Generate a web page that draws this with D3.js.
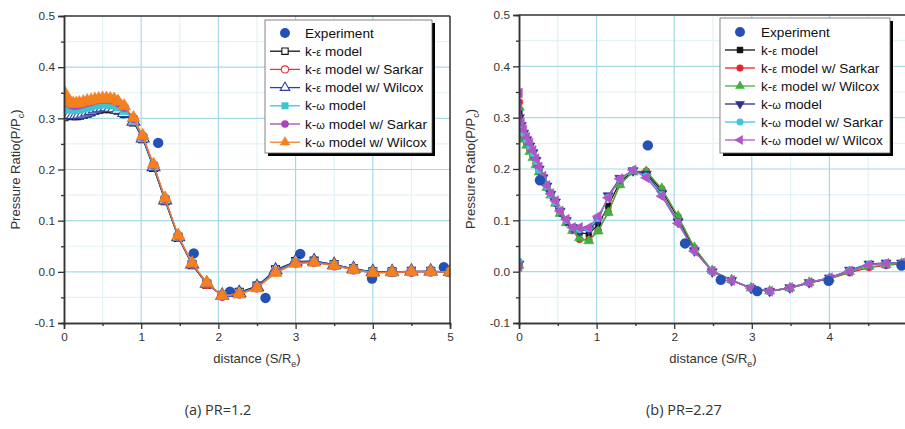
<!DOCTYPE html>
<html><head><meta charset="utf-8">
<script src="https://cdn.jsdelivr.net/npm/d3@7"></script>
<style>body{margin:0;background:#fff}svg{display:block}</style>
</head><body><svg id="c" width="905" height="429"></svg>
<script>
// ---------- DATA ----------
const xTicks = [0, 1, 2, 3, 4, 5];
const xTickLabels = ["0", "1", "2", "3", "4", "5"];
const yTicks = [-0.1, 0.0, 0.1, 0.2, 0.3, 0.4, 0.5];
const yTickLabels = ["-0.1", "0.0", "0.1", "0.2", "0.3", "0.4", "0.5"];
const xMinor = [0.5, 1.5, 2.5, 3.5, 4.5];
const yMinor = [-0.05, 0.05, 0.15, 0.25, 0.35, 0.45];

const seriesNames = ["k-ε model", "k-ε model w/ Sarkar", "k-ε model w/ Wilcox", "k-ω model", "k-ω model w/ Sarkar", "k-ω model w/ Wilcox"];
const captionA = "(a) PR=1.2";
const captionB = "(b) PR=2.27";

// Panel (a) PR=1.2
const expAx = [0.77, 1.22, 1.68, 2.15, 2.61, 3.06, 3.99, 4.92];
const expAy = [0.31, 0.252, 0.036, -0.039, -0.051, 0.035, -0.013, 0.009];
const xA = [0, 0.04, 0.08, 0.12, 0.16, 0.2, 0.25, 0.3, 0.35, 0.4, 0.45, 0.5, 0.55, 0.6, 0.65, 0.7, 0.78, 0.9, 1.02, 1.16, 1.31, 1.48, 1.66, 1.85, 2.05, 2.27, 2.5, 2.74, 3.0, 3.24, 3.5, 3.75, 4.0, 4.25, 4.5, 4.75, 5.0];
const a_kE       = [0.303,0.308,0.306,0.305,0.305,0.306,0.308,0.31,0.313,0.316,0.318,0.319,0.32,0.319,0.318,0.316,0.31,0.293,0.26,0.204,0.139,0.067,0.014,-0.024,-0.046,-0.04,-0.028,0.004,0.02,0.021,0.014,0.006,0.0,0.0,0.001,0.001,0.0];
const a_kE_Sark  = [0.315,0.312,0.31,0.309,0.309,0.31,0.312,0.314,0.316,0.319,0.321,0.322,0.323,0.322,0.321,0.318,0.312,0.295,0.262,0.206,0.141,0.068,0.015,-0.024,-0.047,-0.042,-0.03,0.002,0.019,0.02,0.013,0.005,-0.001,0.0,0.0,0.001,0.0];
const a_kE_Wilc  = [0.31,0.31,0.308,0.307,0.307,0.308,0.31,0.312,0.315,0.318,0.32,0.321,0.322,0.321,0.32,0.317,0.311,0.294,0.261,0.205,0.14,0.068,0.015,-0.023,-0.046,-0.041,-0.029,0.003,0.02,0.021,0.014,0.006,0.0,0.0,0.001,0.001,0.0];
const a_kW       = [0.325,0.32,0.318,0.317,0.317,0.318,0.32,0.322,0.324,0.326,0.327,0.328,0.328,0.327,0.326,0.322,0.315,0.297,0.263,0.207,0.142,0.069,0.016,-0.022,-0.046,-0.042,-0.03,0.001,0.018,0.019,0.013,0.005,-0.001,-0.001,0.0,0.0,0.0];
const a_kW_Sark  = [0.345,0.333,0.328,0.326,0.326,0.327,0.329,0.331,0.333,0.335,0.337,0.338,0.338,0.337,0.336,0.331,0.322,0.3,0.265,0.209,0.143,0.07,0.016,-0.022,-0.047,-0.043,-0.031,0.0,0.017,0.019,0.012,0.004,-0.002,-0.001,0.0,0.0,0.0];
const a_kW_Wilc  = [0.352,0.338,0.332,0.329,0.329,0.33,0.332,0.334,0.335,0.337,0.338,0.339,0.339,0.338,0.337,0.333,0.324,0.301,0.266,0.21,0.144,0.071,0.017,-0.021,-0.047,-0.044,-0.032,-0.002,0.016,0.018,0.012,0.004,-0.002,-0.001,0.0,0.0,0.0];

// Panel (b) PR=2.27
const expBx = [0.27, 1.66, 2.14, 2.6, 3.07, 3.99, 4.93];
const expBy = [0.178, 0.246, 0.055, -0.016, -0.038, -0.018, 0.012];
const xB = [0, 0.005, 0.03, 0.06, 0.1, 0.14, 0.18, 0.22, 0.26, 0.31, 0.36, 0.41, 0.47, 0.53, 0.61, 0.69, 0.78, 0.9, 1.02, 1.15, 1.3, 1.47, 1.64, 1.84, 2.05, 2.26, 2.49, 2.74, 2.99, 3.23, 3.49, 3.74, 4.0, 4.26, 4.51, 4.73, 4.93];
const b_kE       = [0.012,0.31,0.275,0.262,0.25,0.238,0.225,0.21,0.196,0.18,0.165,0.15,0.134,0.115,0.098,0.085,0.076,0.073,0.092,0.128,0.175,0.196,0.193,0.158,0.104,0.044,0.0,-0.017,-0.032,-0.038,-0.032,-0.022,-0.013,0.002,0.014,0.016,0.017];
const b_kE_Sark  = [0.012,0.33,0.28,0.265,0.252,0.24,0.227,0.212,0.197,0.181,0.166,0.15,0.134,0.114,0.096,0.08,0.063,0.062,0.08,0.116,0.17,0.195,0.196,0.161,0.107,0.046,0.001,-0.017,-0.032,-0.039,-0.032,-0.022,-0.014,-0.002,0.008,0.012,0.015];
const b_kE_Wilc  = [0.012,0.32,0.27,0.258,0.246,0.234,0.222,0.208,0.194,0.179,0.164,0.149,0.133,0.113,0.095,0.08,0.066,0.06,0.079,0.115,0.169,0.194,0.195,0.162,0.108,0.047,0.002,-0.016,-0.032,-0.038,-0.032,-0.021,-0.013,0.0,0.01,0.013,0.016];
const b_kW       = [0.015,0.3,0.285,0.27,0.257,0.245,0.232,0.217,0.2,0.183,0.167,0.151,0.136,0.118,0.1,0.086,0.08,0.082,0.1,0.148,0.182,0.197,0.19,0.152,0.097,0.041,0.0,-0.017,-0.032,-0.038,-0.031,-0.021,-0.012,0.003,0.015,0.017,0.017];
const b_kW_Sark  = [0.02,0.29,0.282,0.268,0.255,0.243,0.23,0.215,0.198,0.182,0.166,0.15,0.135,0.117,0.1,0.086,0.082,0.084,0.104,0.145,0.18,0.197,0.186,0.15,0.095,0.04,0.0,-0.017,-0.032,-0.038,-0.031,-0.021,-0.012,0.002,0.014,0.016,0.017];
const b_kW_Wilc  = [0.01,0.348,0.29,0.276,0.262,0.25,0.236,0.22,0.204,0.186,0.168,0.152,0.138,0.118,0.102,0.086,0.086,0.086,0.108,0.144,0.181,0.198,0.183,0.147,0.094,0.04,0.001,-0.017,-0.032,-0.038,-0.031,-0.021,-0.012,0.001,0.013,0.016,0.017];

// ---------- STYLE ----------
const styleA = [
  {color:"#111111", sym:"square",   open:true},
  {color:"#e8343c", sym:"circle",   open:true},
  {color:"#2e3f9e", sym:"triangle", open:true},
  {color:"#3cc6d2", sym:"square",   open:false},
  {color:"#a646b8", sym:"circle",   open:false},
  {color:"#f4801e", sym:"triangle", open:false}
];
const styleB = [
  {color:"#111111", sym:"square",   open:false},
  {color:"#e8242c", sym:"circle",   open:false},
  {color:"#42b040", sym:"triangle", open:false},
  {color:"#2c2f8c", sym:"tridown",  open:false},
  {color:"#40c4dc", sym:"circle",   open:false},
  {color:"#b056c4", sym:"trileft",  open:false}
];
const expColor = "#2352b4";

const svg = d3.select("#c");
svg.append("rect").attr("width",905).attr("height",429).attr("fill","#fff");

function symPath(sym, size){
  const t = sym==="square"?d3.symbolSquare:sym==="circle"?d3.symbolCircle:d3.symbolTriangle;
  return d3.symbol().type(t).size(size)();
}
function symRot(sym){ return sym==="tridown"?180:sym==="trileft"?-90:0; }

function drawMarker(g, cx, cy, st, size){
  g.append("path").attr("d", symPath(st.sym,size))
   .attr("transform",`translate(${cx},${cy}) rotate(${symRot(st.sym)})`)
   .attr("fill", st.open?"#fff":st.color)
   .attr("stroke", st.color).attr("stroke-width", st.open?1.1:0.6);
}

function greekText(t, x, y, label){
  const txt = t.append("text").attr("x",x).attr("y",y)
    .attr("font-family","Liberation Sans, Arial, sans-serif").attr("font-size",13.6).attr("fill","#111");
  const m = label.match(/^(k-)([εω])(.*)$/);
  if(m){
    txt.append("tspan").text(m[1]);
    txt.append("tspan").attr("font-size",11).text(m[2]);
    txt.append("tspan").text(m[3]);
  } else txt.text(label);
  return txt;
}

function panel(o){
  const x = d3.scaleLinear().domain([0,5]).range([o.x0,o.x1]);
  const y = d3.scaleLinear().domain([-0.1,0.5]).range([o.y1,o.y0]);
  const g = svg.append("g");
  const clipId = "clip"+o.id;
  svg.append("clipPath").attr("id",clipId).append("rect")
    .attr("x",o.x0).attr("y",o.y0-6).attr("width",o.x1-o.x0).attr("height",o.y1-o.y0+6);

  // grid
  const grid = g.append("g");
  xMinor.forEach(v=>grid.append("line").attr("x1",x(v)).attr("x2",x(v)).attr("y1",o.y0).attr("y2",o.y1).attr("stroke","#e2f2f6").attr("stroke-width",1.2));
  yMinor.forEach(v=>grid.append("line").attr("x1",o.x0).attr("x2",o.x1).attr("y1",y(v)).attr("y2",y(v)).attr("stroke","#e2f2f6").attr("stroke-width",1.2));
  xTicks.slice(1,5).forEach(v=>grid.append("line").attr("x1",x(v)).attr("x2",x(v)).attr("y1",o.y0).attr("y2",o.y1).attr("stroke","#a6dbe6").attr("stroke-width",1.2));
  yTicks.slice(1,6).forEach(v=>grid.append("line").attr("x1",o.x0).attr("x2",o.x1).attr("y1",y(v)).attr("y2",y(v)).attr("stroke","#a6dbe6").attr("stroke-width",1.2));

  const data = g.append("g").attr("clip-path",`url(#${clipId})`);
  const line = d3.line().x(d=>x(d[0])).y(d=>y(d[1]));
  const drawExp = ()=>o.expX.forEach((v,i)=>data.append("circle").attr("cx",x(v)).attr("cy",y(o.expY[i])).attr("r",o.expR).attr("fill",expColor));
  if(!o.expOnTop) drawExp();
  o.series.forEach((ys,k)=>{
    const st = o.styles[k];
    const pts = o.xs.map((v,i)=>[v,ys[i]]);
    data.append("path").attr("d",line(pts)).attr("fill","none").attr("stroke",st.color).attr("stroke-width",1.2);
    pts.forEach(p=>drawMarker(data, x(p[0]), y(p[1]), st, o.msize[st.sym]||o.msize.def));
  });
  if(o.expOnTop) drawExp();

  // frame
  g.append("line").attr("x1",o.x0).attr("x2",Math.min(o.x1,905)).attr("y1",o.y0).attr("y2",o.y0).attr("stroke","#333").attr("stroke-width",1.5);
  if(o.x1<905) g.append("line").attr("x1",o.x1).attr("x2",o.x1).attr("y1",o.y0).attr("y2",o.y1).attr("stroke","#333").attr("stroke-width",1.5);

  // axes
  const fmtY = d=>yTickLabels[yTicks.indexOf(d)];
  const fmtX = d=>xTickLabels[xTicks.indexOf(d)];
  g.append("g").attr("transform",`translate(${o.x0},0)`)
    .call(d3.axisLeft(y).tickValues(yTicks).tickSize(6).tickPadding(3).tickFormat(fmtY));
  g.append("g").attr("transform",`translate(${o.x0},0)`)
    .call(d3.axisLeft(y).tickValues(yMinor).tickSize(3).tickFormat(""));
  g.append("g").attr("transform",`translate(0,${o.y1})`)
    .call(d3.axisBottom(x).tickValues(o.xShown).tickSize(6).tickPadding(4).tickFormat(fmtX));
  g.append("g").attr("transform",`translate(0,${o.y1})`)
    .call(d3.axisBottom(x).tickValues(xMinor).tickSize(3).tickFormat(""));
  g.selectAll(".domain").attr("stroke","#333").attr("stroke-width",1.5);
  g.selectAll(".tick line").attr("stroke","#333").attr("stroke-width",1.3);
  g.selectAll(".tick text").attr("font-family","Liberation Sans, Arial, sans-serif").attr("font-size",11.8).attr("fill","#333");

  // axis titles
  const yt = g.append("text").attr("transform",`translate(${o.ytX},${(o.y0+o.y1)/2}) rotate(-90)`)
    .attr("text-anchor","middle").attr("font-family","Liberation Sans, Arial, sans-serif").attr("font-size",13).attr("fill","#333");
  yt.append("tspan").text("Pressure Ratio(P/P");
  yt.append("tspan").attr("font-size",9).attr("dy",4).text("c");
  yt.append("tspan").attr("dy",-4).text(")");
  const xt = g.append("text").attr("x",(o.x0+o.x1)/2).attr("y",o.y1+40)
    .attr("text-anchor","middle").attr("font-family","Liberation Sans, Arial, sans-serif").attr("font-size",13).attr("fill","#333");
  xt.append("tspan").text("distance (S/R");
  xt.append("tspan").attr("font-size",9).attr("dy",4).text("e");
  xt.append("tspan").attr("dy",-4).text(")");

  // caption
  svg.append("text").attr("x",o.capX).attr("y",415).attr("text-anchor","middle")
    .attr("font-family","Open Sans, sans-serif").attr("font-size",14.5).attr("fill","#333").text(o.caption);

  // legend
  const L = o.leg;
  svg.append("rect").attr("x",L.x+3).attr("y",L.y+3).attr("width",L.w).attr("height",L.h).attr("fill","#000");
  svg.append("rect").attr("x",L.x).attr("y",L.y).attr("width",L.w).attr("height",L.h).attr("fill","#fff").attr("stroke","#666").attr("stroke-width",0.8);
  const lg = svg.append("g");
  lg.append("circle").attr("cx",L.sx+15).attr("cy",L.y+L.first).attr("r",5).attr("fill",expColor);
  greekText(lg, L.tx, L.y+L.first+4.5, "Experiment");
  seriesNames.forEach((nm,k)=>{
    const cy = L.y+L.first+(k+1)*L.step;
    const st = o.styles[k];
    lg.append("line").attr("x1",L.sx).attr("x2",L.sx+30).attr("y1",cy).attr("y2",cy).attr("stroke",st.color).attr("stroke-width",1.3);
    drawMarker(lg, L.sx+15, cy, st, o.lsize);
    greekText(lg, L.tx, cy+4.5, nm);
  });
}

panel({id:"a", x0:64, x1:450, y0:16, y1:323, xs:xA, xShown:xTicks,
  series:[a_kE,a_kE_Sark,a_kE_Wilc,a_kW,a_kW_Sark,a_kW_Wilc], styles:styleA,
  expX:expAx, expY:expAy, expR:5.2, expOnTop:false,
  msize:{square:64, circle:64, triangle:72, def:64}, lsize:40,
  ytX:20, capX:218, caption:captionA,
  leg:{x:265, y:20, w:167, h:133, sx:270, tx:305, first:13, step:18.2}});

panel({id:"b", x0:519, x1:907, y0:15, y1:323, xs:xB, xShown:xTicks.slice(0,5),
  series:[b_kE,b_kE_Sark,b_kE_Wilc,b_kW,b_kW_Sark,b_kW_Wilc], styles:styleB,
  expX:expBx, expY:expBy, expR:5.2, expOnTop:true,
  msize:{square:32, circle:38, triangle:44, tridown:44, trileft:44, def:38}, lsize:34,
  ytX:475, capX:684, caption:captionB,
  leg:{x:720, y:18, w:170, h:135, sx:725, tx:761, first:14, step:18}});
</script></body></html>
